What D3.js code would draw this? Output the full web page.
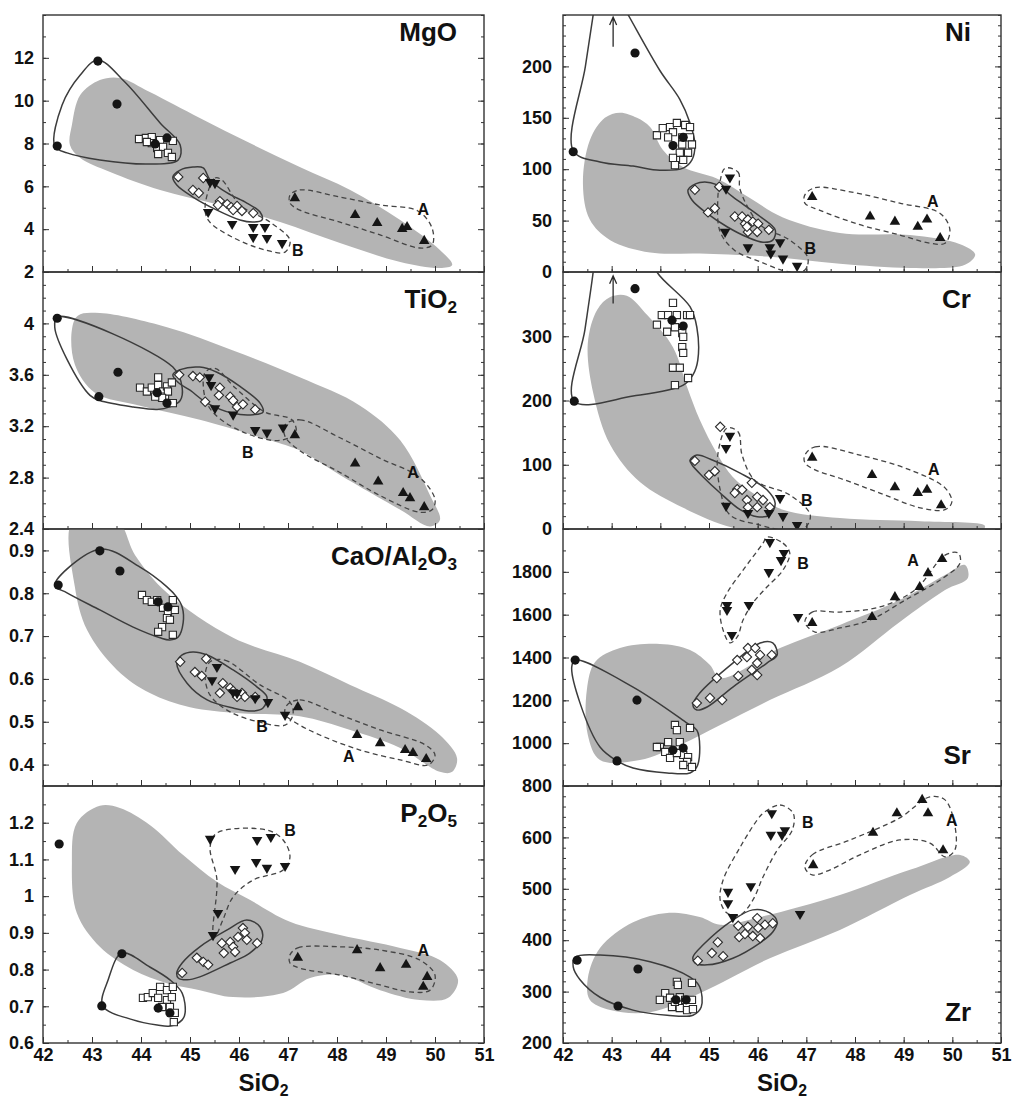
<!DOCTYPE html>
<html>
<head>
<meta charset="utf-8">
<script src="https://cdn.jsdelivr.net/npm/d3@7"></script>
<style>
  body { margin: 0; background: #fff; }
  text { font-family: "Liberation Sans", Arial, sans-serif; font-weight: bold; fill: #111; }
</style>
</head>
<body>
<svg id="chart" width="1012" height="1098"></svg>
<script>
// ---- x axis (SiO2) ----
var xDomain = [42, 51];
var xLabels = [42, 43, 44, 45, 46, 47, 48, 49, 50, 51];

// ---- MgO ----
var mgoShade = [[42.59,8.86],[42.76,10.26],[43.16,10.96],[43.57,11.06],[44.18,10.4],[45.2,9.19],[46.22,8.02],[47.24,6.9],[48.27,5.83],[49.29,4.43],[50.1,3.03],[50.35,2.33],[50.1,2.19],[49.29,2.47],[48.06,3.35],[46.84,4.33],[45.61,5.13],[44.39,5.83],[43.37,6.67],[42.76,7.32],[42.55,7.93]];
var mgoHull1 = [[42.24,7.88],[42.39,9.8],[42.76,11.2],[43.12,11.9],[43.67,10.87],[44.39,8.96],[44.8,7.93],[44.76,7.23],[44.18,7.04],[43.16,7.23],[42.49,7.56]];
var mgoHull2 = [[44.65,6.44],[44.8,6.76],[45.06,6.9],[45.27,6.86],[45.41,6.3],[45.76,5.69],[46.16,5.22],[46.43,4.8],[46.47,4.43],[46.29,4.33],[46.02,4.43],[45.55,4.89],[45.06,5.5],[44.73,6.06]];
var mgoFieldA = [[47.04,5.59],[47.24,5.83],[48.06,5.5],[48.88,5.13],[49.65,4.85],[49.94,4.05],[49.94,3.26],[49.69,3.12],[48.88,3.73],[48.06,4.33],[47.24,4.89],[47.04,5.22]];
var mgoFieldB = [[45.31,5.13],[45.51,6.39],[45.65,6.3],[46.02,5.13],[46.63,4.33],[47.04,3.49],[46.94,2.93],[46.53,3.03],[45.82,3.68],[45.37,4.43]];
var mgoCircles = [[42.29,7.88],[43.12,11.85],[43.51,9.84],[44.29,7.98],[44.53,8.26]];
var mgoSquares = [[43.96,8.21],[44.1,8.26],[44.22,8.3],[44.39,8.16],[44.65,8.12],[44.33,7.79],[44.45,7.84],[44.35,7.51],[44.55,7.56],[44.63,7.37],[44.22,8.02],[44.12,8.07]];
var mgoDiamonds = [[44.76,6.44],[45.27,6.39],[45.06,5.83],[45.18,5.69],[45.61,5.31],[45.76,5.17],[45.84,5.03],[45.96,5.08],[46.06,4.85],[46.29,4.75],[45.57,5.13],[45.88,4.89]];
var mgoTriB = [[45.41,6.2],[45.51,6.15],[45.37,4.8],[45.86,4.24],[46.29,4.1],[46.29,3.63],[46.53,4.1],[46.57,3.59],[46.88,3.35]];
var mgoTriA = [[47.14,5.45],[48.37,4.66],[48.82,4.29],[49.33,4.01],[49.43,4.1],[49.78,3.45]];

// ---- TiO2 ----
var tioShade = [[42.59,3.95],[42.71,4.06],[43.16,4.08],[44.53,3.97],[45.88,3.79],[47.24,3.58],[48.47,3.36],[49.29,3.09],[49.9,2.66],[50.1,2.47],[49.9,2.42],[49.29,2.55],[48.06,2.82],[47.24,3.01],[46.63,3.09],[45.2,3.25],[43.98,3.36],[43.06,3.46],[42.65,3.68]];
var tioHull1 = [[42.29,4.05],[44.65,3.66],[44.84,3.5],[44.8,3.4],[44.59,3.35],[44.33,3.33],[43.84,3.35],[43.16,3.4],[42.96,3.44],[42.49,3.72],[42.24,3.97]];
var tioHull2 = [[44.65,3.6],[44.8,3.64],[45.2,3.66],[45.55,3.62],[46.02,3.51],[46.43,3.38],[46.49,3.31],[46.29,3.29],[45.88,3.3],[45.35,3.38],[45.0,3.48],[44.76,3.54]];
var tioFieldA = [[46.94,3.21],[47.24,3.25],[48.06,3.11],[48.88,2.95],[49.69,2.8],[50.0,2.63],[49.94,2.55],[49.69,2.53],[48.88,2.66],[48.06,2.84],[47.24,3.01],[46.94,3.12]];
var tioFieldB = [[45.31,3.62],[45.51,3.65],[45.92,3.5],[46.53,3.31],[47.08,3.25],[47.16,3.15],[46.84,3.09],[46.33,3.12],[45.71,3.23],[45.37,3.36],[45.27,3.52]];
var tioCircles = [[42.29,4.04],[43.53,3.62],[43.14,3.43],[44.33,3.46],[44.53,3.38]];
var tioSquares = [[43.98,3.5],[44.12,3.47],[44.22,3.5],[44.35,3.58],[44.35,3.52],[44.45,3.47],[44.49,3.43],[44.53,3.51],[44.63,3.54],[44.65,3.38],[44.55,3.47],[44.43,3.42],[44.29,3.43]];
var tioDiamonds = [[44.78,3.6],[45.06,3.59],[45.2,3.58],[45.61,3.5],[45.59,3.44],[45.82,3.43],[45.88,3.4],[45.96,3.35],[46.08,3.37],[46.33,3.33],[45.31,3.39]];
var tioTriB = [[45.39,3.58],[45.43,3.52],[45.51,3.34],[45.88,3.29],[46.33,3.17],[46.57,3.15],[46.9,3.19]];
var tioTriA = [[47.14,3.13],[48.37,2.91],[48.84,2.77],[49.35,2.68],[49.49,2.64],[49.78,2.57]];

// ---- CaO/Al2O3 ----
var caoShade = [[42.61,0.97],[43.51,0.97],[43.88,0.889],[44.53,0.801],[45.88,0.696],[47.24,0.64],[48.27,0.586],[49.29,0.532],[50.1,0.469],[50.45,0.415],[50.35,0.383],[50.1,0.383],[49.29,0.439],[48.27,0.481],[47.24,0.513],[46.02,0.52],[45.0,0.534],[44.18,0.567],[43.51,0.621],[42.9,0.714],[42.65,0.815]];
var caoHull1 = [[42.24,0.819],[43.16,0.903],[43.98,0.861],[44.53,0.815],[44.73,0.791],[44.84,0.768],[44.86,0.731],[44.76,0.698],[44.59,0.691],[44.39,0.696],[43.84,0.721],[43.16,0.761],[42.49,0.801]];
var caoHull2 = [[44.73,0.637],[44.84,0.656],[45.06,0.663],[45.35,0.656],[45.88,0.621],[46.37,0.581],[46.57,0.558],[46.49,0.532],[46.29,0.525],[45.88,0.532],[45.35,0.551],[44.94,0.59]];
var caoFieldA = [[46.98,0.539],[47.24,0.551],[48.06,0.516],[48.88,0.481],[49.8,0.446],[50.0,0.422],[49.86,0.399],[49.29,0.411],[48.47,0.434],[47.65,0.469],[47.14,0.499],[46.94,0.518]];
var caoFieldB = [[45.41,0.64],[45.71,0.644],[46.43,0.586],[47.04,0.546],[47.1,0.516],[46.94,0.492],[46.43,0.499],[45.82,0.523],[45.41,0.562],[45.31,0.609]];
var caoCircles = [[42.31,0.819],[43.16,0.899],[43.57,0.852],[44.35,0.78],[44.55,0.768]];
var caoSquares = [[44.02,0.796],[44.12,0.784],[44.22,0.78],[44.33,0.784],[44.45,0.766],[44.55,0.754],[44.65,0.784],[44.69,0.761],[44.53,0.742],[44.43,0.721],[44.35,0.71],[44.65,0.703],[44.59,0.738]];
var caoDiamonds = [[44.8,0.64],[45.33,0.647],[45.1,0.616],[45.24,0.607],[45.67,0.59],[45.61,0.567],[45.82,0.579],[45.88,0.572],[46.06,0.567],[46.12,0.558],[46.33,0.558],[45.96,0.558]];
var caoTriB = [[45.55,0.628],[45.45,0.597],[45.88,0.569],[45.96,0.567],[46.33,0.555],[46.59,0.546],[46.94,0.516]];
var caoTriA = [[47.2,0.534],[48.41,0.469],[48.88,0.45],[49.39,0.434],[49.55,0.427],[49.82,0.413]];

// ---- P2O5 ----
var pShade = [[43.16,1.246],[43.57,1.24],[44.18,1.194],[44.86,1.112],[45.55,1.039],[46.22,0.99],[47.04,0.93],[48.06,0.894],[49.29,0.859],[50.1,0.826],[50.47,0.772],[50.27,0.723],[49.69,0.717],[48.88,0.744],[48.06,0.785],[47.45,0.777],[46.9,0.736],[45.88,0.725],[45.2,0.744],[44.53,0.763],[43.84,0.799],[43.16,0.862],[42.69,0.954],[42.59,1.09],[42.69,1.199]];
var pHull1 = [[43.61,0.845],[44.18,0.807],[44.59,0.772],[44.84,0.736],[44.9,0.682],[44.84,0.663],[44.59,0.646],[44.33,0.649],[43.84,0.663],[43.22,0.701],[43.33,0.772]];
var pHull2 = [[44.73,0.791],[44.84,0.818],[45.2,0.862],[45.76,0.908],[46.16,0.935],[46.43,0.916],[46.47,0.881],[46.22,0.845],[45.82,0.818],[45.2,0.78],[44.94,0.772],[44.76,0.777]];
var pFieldA = [[47.04,0.84],[47.2,0.859],[48.06,0.862],[48.88,0.853],[49.69,0.826],[50.0,0.785],[49.9,0.744],[49.49,0.739],[48.88,0.758],[48.06,0.785],[47.24,0.804],[47.04,0.818]];
var pFieldB = [[45.47,0.9],[45.55,1.044],[45.41,1.134],[45.55,1.172],[46.57,1.18],[46.9,1.153],[47.04,1.107],[46.9,1.071],[46.29,1.044],[45.88,0.998],[45.67,0.935],[45.51,0.889]];
var pCircles = [[42.33,1.142],[43.61,0.843],[43.2,0.701],[44.35,0.695],[44.59,0.682]];
var pSquares = [[44.04,0.723],[44.14,0.725],[44.24,0.736],[44.39,0.753],[44.53,0.744],[44.65,0.753],[44.35,0.723],[44.53,0.717],[44.63,0.725],[44.43,0.698],[44.59,0.698],[44.69,0.682],[44.67,0.657]];
var pDiamonds = [[44.84,0.791],[45.14,0.832],[45.27,0.821],[45.37,0.813],[45.65,0.872],[45.69,0.845],[45.82,0.875],[45.88,0.862],[45.98,0.889],[46.08,0.913],[46.12,0.9],[46.16,0.881],[46.37,0.872],[45.92,0.848]];
var pTriB = [[45.41,1.156],[46.37,1.153],[46.65,1.161],[45.92,1.074],[46.35,1.093],[46.57,1.077],[46.94,1.082],[45.57,0.954],[45.47,0.894]];
var pTriA = [[47.2,0.832],[48.41,0.853],[48.88,0.804],[49.41,0.813],[49.76,0.753],[49.84,0.78]];

// ---- Ni ----
var niShade = [[42.55,128],[42.86,150],[43.17,155],[43.52,150],[43.79,141],[44.05,119],[44.47,102],[45.16,91],[45.84,72],[46.52,53],[47.69,38],[49.13,36],[50.16,27],[50.47,17],[50.26,7],[49.13,4],[47.69,8],[46.19,15],[44.81,18],[43.79,19],[42.97,31],[42.55,51],[42.41,85]];
var niHullOpen = [[42.68,270],[42.62,250],[42.46,200],[42.21,118],[42.76,107],[43.44,103],[43.99,99],[44.47,101],[44.65,109],[44.71,124],[44.61,145],[44.4,168],[43.99,196],[43.34,250],[43.1,270]];
var niHull2 = [[44.57,80],[44.81,87],[45.16,85],[45.49,73],[46.05,54],[46.36,41],[46.31,31],[46.11,29],[45.78,34],[45.37,44],[44.96,57],[44.65,70]];
var niFieldA = [[46.97,75],[47.18,82],[47.9,78],[48.92,67],[49.75,57],[49.95,41],[49.85,28],[49.54,28],[48.92,36],[48.1,46],[47.28,60],[46.97,67]];
var niFieldB = [[45.33,101],[45.6,97],[45.64,80],[46.05,46],[46.66,31],[47.03,14],[46.97,2],[46.66,0],[46.05,10],[45.53,21],[45.23,39],[45.18,70],[45.23,89]];
var niCircles = [[42.21,117],[43.48,213],[44.26,123],[44.47,131]];
var niSquares = [[43.93,133],[44.05,140],[44.2,141],[44.26,136],[44.34,145],[44.51,143],[44.61,141],[44.16,131],[44.45,131],[44.61,131],[44.45,124],[44.65,124],[44.4,116],[44.57,116],[44.26,111],[44.47,109],[44.3,104]];
var niDiamonds = [[44.71,80],[45.21,83],[44.98,58],[45.12,62],[45.53,54],[45.68,54],[45.74,47],[45.8,51],[45.9,49],[46.01,47],[45.8,39],[45.99,39],[46.23,41],[45.78,44]];
var niTriB = [[45.43,92],[45.35,81],[45.33,39],[45.8,24],[46.25,24],[46.27,18],[46.46,29],[46.52,13],[46.81,6]];
var niTriA = [[47.12,73],[48.31,54],[48.82,49],[49.29,44],[49.48,51],[49.75,33]];
var niArrow = [43.03, 219, 248];

// ---- Cr ----
var crShade = [[42.97,361],[43.31,363],[43.73,333],[44.26,283],[44.55,221],[44.81,170],[45.16,118],[45.49,81],[45.9,56],[46.52,30],[47.69,17],[49.34,12],[50.67,5],[50.6,-3],[46.5,-4],[45.49,2],[44.47,33],[43.58,73],[42.97,131],[42.62,212],[42.51,289],[42.7,341]];
var crHullOpen = [[42.66,430],[42.62,400],[42.45,310],[42.23,199],[43.44,207],[44.47,224],[44.67,240],[44.77,263],[44.75,314],[44.61,346],[43.93,400],[43.8,430]];
var crHull2 = [[44.61,107],[44.75,115],[45.08,107],[45.64,87],[46.19,61],[46.36,40],[46.25,22],[45.99,19],[45.64,30],[45.23,56],[44.88,81],[44.65,100]];
var crFieldA = [[46.97,115],[47.18,128],[48.1,115],[49.13,92],[49.85,64],[49.99,42],[49.85,30],[49.34,33],[48.51,56],[47.69,79],[47.18,92],[46.97,103]];
var crFieldB = [[45.37,157],[45.6,151],[45.68,115],[45.94,76],[46.66,53],[47.08,22],[46.97,2],[46.56,-2],[46.05,6],[45.43,22],[45.23,61],[45.18,115]];
var crCircles = [[42.23,199],[43.48,374],[44.24,325],[44.47,316]];
var crSquares = [[43.93,318],[44.03,333],[44.16,333],[44.26,352],[44.34,333],[44.55,333],[44.61,333],[44.14,307],[44.3,314],[44.45,305],[44.47,299],[44.45,283],[44.47,274],[44.26,251],[44.4,251],[44.3,224],[44.57,235]];
var crDiamonds = [[44.71,106],[45.23,159],[45.0,84],[45.12,90],[45.58,62],[45.68,61],[45.53,56],[45.78,45],[45.88,72],[45.99,50],[45.99,34],[45.8,34],[46.11,45],[46.25,34]];
var crTriB = [[45.43,145],[45.35,126],[45.35,36],[45.8,25],[46.23,25],[46.46,48],[46.52,20],[46.81,6]];
var crTriA = [[47.12,111],[48.35,84],[48.82,65],[49.29,56],[49.48,61],[49.77,37]];
var crArrow = [43.03, 351, 394];

// ---- Sr ----
var srShade = [[42.49,1248],[42.66,1379],[43.17,1444],[43.99,1463],[44.61,1435],[45.02,1365],[45.23,1304],[46.46,1444],[47.69,1552],[48.92,1668],[49.85,1785],[50.26,1832],[50.32,1771],[49.85,1715],[48.92,1566],[47.69,1356],[46.25,1201],[45.23,1085],[44.4,991],[43.58,921],[42.76,921],[42.51,1038]];
var srHull1 = [[42.25,1388],[43.44,1262],[44.55,1094],[44.75,1061],[44.81,982],[44.75,889],[44.61,861],[44.14,861],[43.44,884],[43.11,917],[42.76,982],[42.35,1187],[42.18,1356]];
var srHull2 = [[44.67,1178],[44.81,1234],[45.49,1374],[46.05,1468],[46.31,1468],[46.4,1412],[46.19,1374],[45.49,1262],[44.96,1169],[44.75,1155]];
var srFieldA = [[46.97,1566],[47.12,1612],[47.69,1612],[48.51,1636],[49.23,1715],[49.85,1878],[50.12,1888],[50.16,1841],[49.75,1762],[49.03,1668],[48.31,1575],[47.69,1538],[47.18,1519]];
var srFieldB = [[46.19,1962],[46.52,1934],[46.66,1888],[46.52,1808],[46.19,1729],[45.9,1654],[45.7,1575],[45.58,1496],[45.43,1468],[45.29,1528],[45.23,1622],[45.37,1701],[45.7,1808],[46.11,1934]];
var srCircles = [[42.25,1388],[43.52,1201],[43.11,917],[44.26,968],[44.47,977]];
var srSquares = [[44.3,1085],[44.34,1061],[44.61,1071],[44.16,1005],[44.4,1005],[43.99,982],[44.1,959],[44.2,931],[44.47,945],[44.57,935],[44.55,912],[44.47,898],[44.65,889],[44.34,954],[43.93,982]];
var srDiamonds = [[44.75,1187],[45.02,1211],[45.27,1201],[45.16,1304],[45.58,1388],[45.6,1314],[45.78,1402],[45.8,1444],[45.95,1444],[45.88,1342],[45.99,1374],[46.05,1412],[46.29,1412],[45.99,1318]];
var srTriB = [[46.25,1939],[46.54,1888],[46.48,1855],[46.23,1799],[45.37,1645],[45.37,1622],[45.82,1645],[45.47,1505],[46.83,1589]];
var srTriA = [[47.12,1561],[48.35,1589],[48.82,1682],[49.33,1729],[49.5,1794],[49.79,1860]];

// ---- Zr ----
var zrShade = [[42.51,326],[42.76,385],[43.44,435],[44.14,453],[44.81,445],[45.23,430],[46.05,445],[47.69,488],[49.13,537],[50.16,566],[50.36,552],[49.95,523],[49.13,488],[47.69,420],[46.25,365],[44.81,297],[43.79,260],[42.97,264],[42.55,284]];
var zrHull1 = [[42.25,367],[42.76,371],[43.79,358],[44.61,328],[44.81,309],[44.84,270],[44.67,254],[44.14,254],[43.44,264],[42.76,289],[42.35,323],[42.21,348]];
var zrHull2 = [[44.67,367],[44.88,391],[45.49,439],[45.9,459],[46.25,453],[46.4,435],[46.31,416],[46.05,395],[45.49,365],[44.96,352],[44.71,356]];
var zrFieldA = [[46.97,542],[47.12,566],[47.9,595],[48.92,638],[49.54,679],[49.85,673],[50.05,624],[50.05,575],[49.85,562],[49.54,589],[48.92,595],[48.1,566],[47.49,537],[47.12,527]];
var zrFieldB = [[46.11,647],[46.46,663],[46.73,647],[46.71,614],[46.4,575],[46.11,523],[45.9,478],[45.64,449],[45.37,453],[45.23,478],[45.29,517],[45.64,581],[45.99,634]];
var zrCircles = [[42.29,361],[43.54,344],[43.13,272],[44.32,284],[44.53,284]];
var zrSquares = [[44.34,319],[44.36,313],[44.65,317],[44.1,297],[44.2,288],[44.4,289],[43.99,284],[44.51,284],[44.65,284],[44.24,270],[44.4,268],[44.55,264],[44.67,266],[44.3,280]];
var zrDiamonds = [[44.77,360],[45.06,375],[45.29,369],[45.18,396],[45.6,428],[45.62,406],[45.74,412],[45.8,426],[45.9,408],[45.99,443],[46.05,404],[46.15,430],[46.31,433],[46.01,424]];
var zrTriB = [[46.29,647],[46.27,605],[46.5,605],[46.56,614],[45.39,494],[45.39,472],[45.86,505],[45.49,445],[46.87,451]];
var zrTriA = [[47.14,546],[48.37,609],[48.86,647],[49.38,673],[49.5,647],[49.81,575]];

var panels = [
  {id:'mgo', col:0, row:0, domain:[2,14], labels:[2,4,6,8,10,12], minor:1, title:['MgO'], titlePos:'top',
   shade:mgoShade, hulls:[mgoHull1,mgoHull2], openHull:null, fieldA:mgoFieldA, fieldB:mgoFieldB,
   circles:mgoCircles, squares:mgoSquares, diamonds:mgoDiamonds, triB:mgoTriB, triA:mgoTriA,
   labA:[49.76,4.9], labB:[47.2,3.0], arrow:null},
  {id:'tio', col:0, row:1, domain:[2.4,4.4], labels:[2.4,2.8,3.2,3.6,4], minor:0.1, title:['TiO','2'], titlePos:'top',
   shade:tioShade, hulls:[tioHull1,tioHull2], openHull:null, fieldA:tioFieldA, fieldB:tioFieldB,
   circles:tioCircles, squares:tioSquares, diamonds:tioDiamonds, triB:tioTriB, triA:tioTriA,
   labA:[49.55,2.84], labB:[46.18,3.0], arrow:null},
  {id:'cao', col:0, row:2, domain:[0.35,0.95], labels:[0.4,0.5,0.6,0.7,0.8,0.9], minor:0.05, title:['CaO/Al','2','O','3'], titlePos:'top',
   shade:caoShade, hulls:[caoHull1,caoHull2], openHull:null, fieldA:caoFieldA, fieldB:caoFieldB,
   circles:caoCircles, squares:caoSquares, diamonds:caoDiamonds, triB:caoTriB, triA:caoTriA,
   labA:[48.24,0.418], labB:[46.47,0.488], arrow:null},
  {id:'p', col:0, row:3, domain:[0.6,1.3], labels:[0.6,0.7,0.8,0.9,1,1.1,1.2], minor:0.05, title:['P','2','O','5'], titlePos:'top',
   shade:pShade, hulls:[pHull1,pHull2], openHull:null, fieldA:pFieldA, fieldB:pFieldB,
   circles:pCircles, squares:pSquares, diamonds:pDiamonds, triB:pTriB, triA:pTriA,
   labA:[49.76,0.853], labB:[47.04,1.18], arrow:null},
  {id:'ni', col:1, row:0, domain:[0,250], labels:[0,50,100,150,200], minor:10, title:['Ni'], titlePos:'top',
   shade:niShade, hulls:[niHull2], openHull:niHullOpen, fieldA:niFieldA, fieldB:niFieldB,
   circles:niCircles, squares:niSquares, diamonds:niDiamonds, triB:niTriB, triA:niTriA,
   labA:[49.6,69], labB:[47.08,23], arrow:niArrow},
  {id:'cr', col:1, row:1, domain:[0,400], labels:[0,100,200,300], minor:20, title:['Cr'], titlePos:'top',
   shade:crShade, hulls:[crHull2], openHull:crHullOpen, fieldA:crFieldA, fieldB:crFieldB,
   circles:crCircles, squares:crSquares, diamonds:crDiamonds, triB:crTriB, triA:crTriA,
   labA:[49.62,92], labB:[47.01,45], arrow:crArrow},
  {id:'sr', col:1, row:2, domain:[800,2000], labels:[800,1000,1200,1400,1600,1800], minor:100, title:['Sr'], titlePos:'bottom',
   shade:srShade, hulls:[srHull1,srHull2], openHull:null, fieldA:srFieldA, fieldB:srFieldB,
   circles:srCircles, squares:srSquares, diamonds:srDiamonds, triB:srTriB, triA:srTriA,
   labA:[49.19,1855], labB:[46.93,1841], arrow:null},
  {id:'zr', col:1, row:3, domain:[200,700], labels:[200,300,400,500,600], minor:20, title:['Zr'], titlePos:'bottom',
   shade:zrShade, hulls:[zrHull1,zrHull2], openHull:null, fieldA:zrFieldA, fieldB:zrFieldB,
   circles:zrCircles, squares:zrSquares, diamonds:zrDiamonds, triB:zrTriB, triA:zrTriA,
   labA:[49.99,634], labB:[47.03,630], arrow:null}
];

var svg = d3.select("#chart");
var colX = [[43, 484], [563, 1001]];
var rowTop = [15, 272, 529, 786];
var rowH = 257;
var ink = "#2a2a2a";

function fmt(v) { return String(+v.toFixed(2)); }

// text with alternating normal / subscript pieces
function richText(sel, segs, size) {
  segs.forEach(function(s, i) {
    var t = sel.append("tspan").text(s);
    if (i % 2) t.attr("font-size", size * 0.66).attr("dy", size * 0.2);
    else if (i > 0) t.attr("dy", -size * 0.2);
  });
}

panels.forEach(function(p) {
  var x0 = colX[p.col][0], x1 = colX[p.col][1];
  var top = rowTop[p.row], bot = top + rowH;
  var x = d3.scaleLinear().domain(xDomain).range([x0, x1]);
  var y = d3.scaleLinear().domain(p.domain).range([bot, top]);

  var g = svg.append("g");
  g.append("clipPath").attr("id", "clip-" + p.id)
    .append("rect").attr("x", x0).attr("y", top).attr("width", x1 - x0).attr("height", rowH);
  var plot = g.append("g").attr("clip-path", "url(#clip-" + p.id + ")");

  var closed = d3.line().x(function(d) { return x(d[0]); }).y(function(d) { return y(d[1]); })
    .curve(d3.curveCatmullRomClosed.alpha(0.5));
  var open = d3.line().x(function(d) { return x(d[0]); }).y(function(d) { return y(d[1]); })
    .curve(d3.curveCatmullRom.alpha(0.5));

  // grey field
  plot.append("path").attr("d", closed(p.shade)).attr("fill", "#b4b4b4");

  // solid outlines
  p.hulls.forEach(function(h) {
    plot.append("path").attr("d", closed(h))
      .attr("fill", "none").attr("stroke", "#3c3c3c").attr("stroke-width", 1.5);
  });
  if (p.openHull) {
    plot.append("path").attr("d", open(p.openHull))
      .attr("fill", "none").attr("stroke", "#3c3c3c").attr("stroke-width", 1.5);
  }

  // dashed fields A and B
  [p.fieldA, p.fieldB].forEach(function(f) {
    plot.append("path").attr("d", closed(f))
      .attr("fill", "none").attr("stroke", "#444").attr("stroke-width", 1.3)
      .attr("stroke-dasharray", "5,3.5");
  });

  // symbols
  function pts(data, type, size, rot, fill) {
    plot.selectAll(null).data(data).enter().append("path")
      .attr("d", d3.symbol().type(type).size(size))
      .attr("transform", function(d) { return "translate(" + x(d[0]) + "," + y(d[1]) + ") rotate(" + rot + ")"; })
      .attr("fill", fill)
      .attr("stroke", fill === "#fff" ? ink : "none")
      .attr("stroke-width", 1.1);
  }
  pts(p.squares, d3.symbolSquare, 52, 0, "#fff");
  pts(p.diamonds, d3.symbolSquare, 44, 45, "#fff");
  pts(p.circles, d3.symbolCircle, 66, 0, "#151515");
  pts(p.triB, d3.symbolTriangle, 48, 180, "#151515");
  pts(p.triA, d3.symbolTriangle, 48, 0, "#151515");

  // arrow pointing to off-scale value
  if (p.arrow) {
    var ax = x(p.arrow[0]), ay0 = y(p.arrow[1]), ay1 = y(p.arrow[2]);
    plot.append("path")
      .attr("d", "M" + ax + "," + ay0 + "V" + ay1 + "M" + (ax - 3.5) + "," + (ay1 + 8) + "L" + ax + "," + ay1 + "L" + (ax + 3.5) + "," + (ay1 + 8))
      .attr("fill", "none").attr("stroke", ink).attr("stroke-width", 1.3);
  }

  // A / B labels
  [["A", p.labA], ["B", p.labB]].forEach(function(l) {
    plot.append("text").attr("x", x(l[1][0])).attr("y", y(l[1][1]))
      .attr("text-anchor", "middle").attr("dy", "0.35em")
      .style("font-size", "16px").text(l[0]);
  });

  // frame
  g.append("rect").attr("x", x0).attr("y", top).attr("width", x1 - x0).attr("height", rowH)
    .attr("fill", "none").attr("stroke", "#333").attr("stroke-width", 1.4);

  // y ticks
  var n = Math.round((p.domain[1] - p.domain[0]) / p.minor);
  var minorVals = d3.range(n + 1).map(function(i) { return +(p.domain[0] + i * p.minor).toFixed(3); });
  function clean(a) { a.select(".domain").remove(); a.selectAll(".tick line").attr("stroke", "#333"); }

  g.append("g").attr("transform", "translate(" + x0 + ",0)")
    .call(d3.axisLeft(y).tickValues(minorVals).tickSize(-3).tickFormat("")).call(clean);
  g.append("g").attr("transform", "translate(" + x1 + ",0)")
    .call(d3.axisRight(y).tickValues(minorVals).tickSize(-3).tickFormat("")).call(clean);
  g.append("g").attr("transform", "translate(" + x1 + ",0)")
    .call(d3.axisRight(y).tickValues(p.labels).tickSize(-6).tickFormat("")).call(clean);
  var yl = g.append("g").attr("transform", "translate(" + x0 + ",0)")
    .call(d3.axisLeft(y).tickValues(p.labels).tickSize(-6).tickPadding(p.col ? 11 : 9).tickFormat(fmt));
  yl.call(clean);
  yl.selectAll("text").attr("font-family", null).style("font-size", "18px").attr("fill", "#111");

  // x ticks
  var xMinor = d3.range(42, 51.01, 0.5);
  g.append("g").attr("transform", "translate(0," + bot + ")")
    .call(d3.axisBottom(x).tickValues(xMinor).tickSize(-3).tickFormat("")).call(clean);
  var xl = g.append("g").attr("transform", "translate(0," + bot + ")")
    .call(d3.axisBottom(x).tickValues(xLabels).tickSize(-6).tickPadding(5)
      .tickFormat(p.row === 3 ? d3.format("d") : ""));
  xl.call(clean);
  xl.selectAll("text").attr("font-family", null).style("font-size", "18px").attr("fill", "#111");

  // panel title
  var tx = x1 - (p.col ? 30 : 27);
  var ty = p.titlePos === "top" ? top + (p.row === 0 ? 26 : 36) : bot - 22;
  var t = g.append("text").attr("x", tx).attr("y", ty).attr("text-anchor", "end").style("font-size", "26px");
  richText(t, p.title, 26);
});

// SiO2 axis titles
[[263.5, 1091], [782, 1091]].forEach(function(pos) {
  var t = svg.append("text").attr("x", pos[0]).attr("y", pos[1]).attr("text-anchor", "middle").style("font-size", "24px");
  richText(t, ["SiO", "2"], 24);
});
</script>
</body>
</html>
